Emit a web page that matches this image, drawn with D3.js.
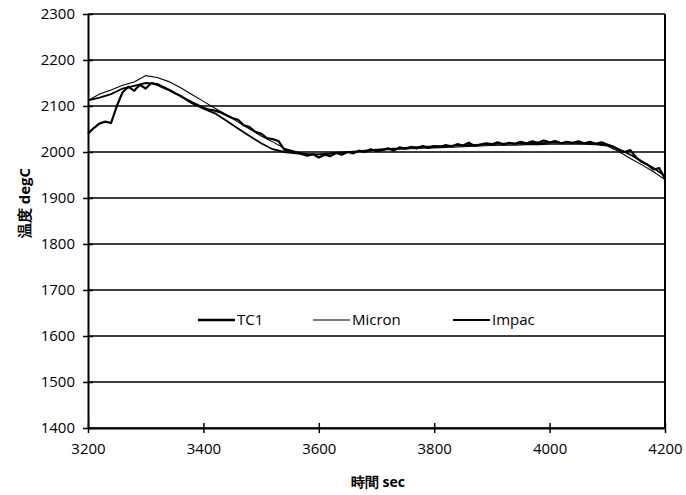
<!DOCTYPE html>
<html><head><meta charset="utf-8">
<script src="https://cdn.jsdelivr.net/npm/d3@7"></script>
<style>body{margin:0;background:#fff}svg{display:block}text{font-family:"Open Sans","Noto Sans",sans-serif;fill:#000}</style>
</head><body>
<svg id="c" width="686" height="495"></svg>
<script>
const xTicks = [3200,3400,3600,3800,4000,4200];
const yTicks = [1400,1500,1600,1700,1800,1900,2000,2100,2200,2300];
const seriesNames = ["TC1","Micron","Impac"];

const tc1Time = [3200,3210,3220,3230,3240,3250,3260,3270,3280,3290,3300,3310,3320,3330,3340,3350,3360,3370,3380,3390,3400,3410,3420,3430,3440,3450,3460,3470,3480,3490,3500,3510,3520,3530,3540,3550,3560,3570,3580,3590,3600,3610,3620,3630,3640,3650,3660,3670,3680,3690,3700,3710,3720,3730,3740,3750,3760,3770,3780,3790,3800,3810,3820,3830,3840,3850,3860,3870,3880,3890,3900,3910,3920,3930,3940,3950,3960,3970,3980,3990,4000,4010,4020,4030,4040,4050,4060,4070,4080,4090,4100,4110,4120,4130,4140,4150,4160,4170,4180,4190,4200];
const tc1 = [2040,2052,2062,2066,2063,2100,2130,2142,2133,2146,2138,2150,2146,2140,2135,2128,2122,2115,2108,2102,2096,2092,2090,2086,2080,2074,2070,2058,2054,2044,2040,2030,2028,2024,2005,2003,2000,1996,1992,1995,1988,1994,1991,1998,1994,2000,1997,2003,2000,2006,2002,2004,2008,2003,2010,2007,2011,2008,2013,2009,2013,2011,2015,2012,2017,2014,2020,2013,2016,2019,2017,2021,2016,2020,2018,2022,2019,2023,2020,2025,2021,2024,2019,2022,2020,2023,2019,2022,2018,2021,2016,2012,2005,2000,2004,1988,1978,1972,1962,1965,1942];

const smoothTime = [3200,3220,3240,3260,3280,3300,3320,3340,3360,3380,3400,3420,3440,3460,3480,3500,3520,3540,3560,3580,3600,3620,3640,3660,3680,3700,3720,3740,3760,3780,3800,3820,3840,3860,3880,3900,3920,3940,3960,3980,4000,4020,4040,4060,4080,4100,4120,4140,4160,4180,4200];
const micron = [2112,2126,2135,2145,2152,2166,2162,2153,2140,2125,2110,2095,2081,2065,2050,2035,2022,2008,2000,1996,1995,1996,1998,2000,2002,2004,2005,2006,2007,2008,2009,2010,2011,2012,2013,2014,2015,2015,2016,2016,2017,2017,2017,2017,2016,2013,2001,1986,1972,1957,1940];
const impac = [2112,2118,2126,2138,2144,2150,2148,2136,2122,2106,2094,2084,2068,2051,2035,2019,2006,2000,1997,1995,1995,1997,1999,2001,2003,2005,2007,2008,2010,2011,2012,2013,2014,2015,2016,2017,2018,2018,2019,2019,2020,2020,2020,2019,2018,2015,2006,1994,1980,1965,1948];

const svg = d3.select("#c");
const L = 88, R = 665, T = 14, B = 428;
const x = d3.scaleLinear().domain([3200,4200]).range([L,R]);
const y = d3.scaleLinear().domain([1400,2300]).range([B,T]);

// gridlines
svg.append("g").selectAll("line").data(yTicks).join("line")
  .attr("x1",L).attr("x2",R).attr("y1",d=>y(d)).attr("y2",d=>y(d))
  .attr("stroke","#000").attr("stroke-width",1.6);

// right border
svg.append("line").attr("x1",R).attr("x2",R).attr("y1",T).attr("y2",B).attr("stroke","#000").attr("stroke-width",2);

// y axis
const ya = svg.append("g").attr("transform",`translate(${L},0)`)
  .call(d3.axisLeft(y).tickValues(yTicks).tickFormat(d3.format("d")).tickSizeInner(5).tickSizeOuter(0).tickPadding(6));
ya.select(".domain").attr("stroke-width",2);
ya.selectAll(".tick line").attr("x2",5).attr("x1",-5).attr("stroke-width",1.5);
ya.selectAll("text").attr("font-size",15).attr("font-family","Open Sans").attr("dx",-2);

// x axis
const xa = svg.append("g").attr("transform",`translate(0,${B})`)
  .call(d3.axisBottom(x).tickValues(xTicks).tickFormat(d3.format("d")).tickSizeInner(5).tickSizeOuter(0).tickPadding(10));
xa.select(".domain").attr("stroke-width",2);
xa.selectAll(".tick line").attr("y1",-5).attr("y2",5).attr("stroke-width",1.5);
xa.selectAll("text").attr("font-size",15).attr("font-family","Open Sans");

// series
const line = d3.line().x(d=>x(d[0])).y(d=>y(d[1]));
const mk = (t,v)=>t.map((tt,i)=>[tt,v[i]]);
svg.append("path").datum(mk(smoothTime,impac)).attr("d",line).attr("fill","none").attr("stroke","#000").attr("stroke-width",1.8);
svg.append("path").datum(mk(smoothTime,micron)).attr("d",line).attr("fill","none").attr("stroke","#000").attr("stroke-width",1.1);
svg.append("path").datum(mk(tc1Time,tc1)).attr("d",line).attr("fill","none").attr("stroke","#000").attr("stroke-width",2.2).attr("stroke-linejoin","round");

// legend
const leg = [
  {name:seriesNames[0], x0:198, w:2.6},
  {name:seriesNames[1], x0:313, w:1.1},
  {name:seriesNames[2], x0:453, w:1.8}
];
const lg = svg.append("g");
leg.forEach(d=>{
  lg.append("line").attr("x1",d.x0).attr("x2",d.x0+37).attr("y1",320).attr("y2",320).attr("stroke","#000").attr("stroke-width",d.w);
  lg.append("text").attr("x",d.x0+39).attr("y",320).attr("dy","0.35em").attr("font-size",15).text(d.name);
});

// axis titles
svg.append("text").attr("x",378).attr("y",482).attr("dy","0.35em").attr("text-anchor","middle")
  .attr("font-size",14).attr("font-weight","bold").attr("font-family","Noto Sans CJK JP, Open Sans").text("時間 sec");
svg.append("text").attr("transform","translate(25,203) rotate(-90)").attr("dy","0.35em").attr("text-anchor","middle")
  .attr("font-size",15).attr("font-weight","bold").attr("font-family","Noto Sans CJK JP, Open Sans").text("温度 degC");
</script>
</body></html>
